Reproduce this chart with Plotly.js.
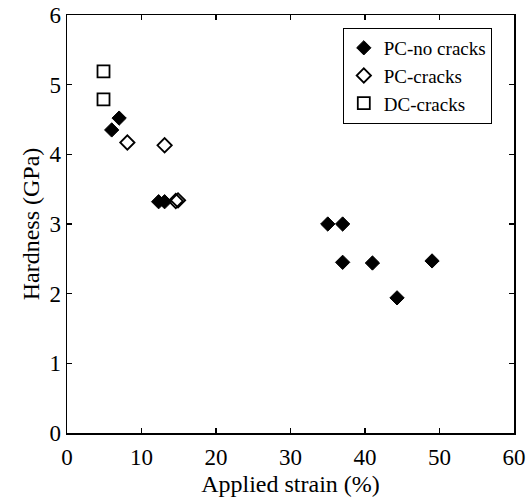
<!DOCTYPE html>
<html>
<head>
<meta charset="utf-8">
<script src="https://cdn.plot.ly/plotly-3.0.1.min.js"></script>
<style>html,body{margin:0;padding:0;background:#fff;}#chart{width:531px;height:500px;}</style>
</head>
<body>
<div id="chart"></div>
<script>
// Data
const pcNoCracksX = [6.0, 7.0, 12.3, 13.1, 35.0, 37.0, 37.0, 41.0, 44.3, 49.0];
const pcNoCracksY = [4.35, 4.52, 3.32, 3.32, 3.00, 3.00, 2.45, 2.44, 1.94, 2.47];
const pcCracksX = [8.1, 13.1, 14.6, 14.9];
const pcCracksY = [4.17, 4.13, 3.33, 3.34];
const dcCracksX = [4.9, 4.9];
const dcCracksY = [5.19, 4.79];
const seriesNames = ["PC-no cracks", "PC-cracks", "DC-cracks"];
const xTicks = [0, 10, 20, 30, 40, 50, 60];
const yTicks = [0, 1, 2, 3, 4, 5, 6];
const xTitle = "Applied strain (%)";
const yTitle = "Hardness (GPa)";

const FONT = "Liberation Serif, Times New Roman, serif";

const traces = [
  {x: pcNoCracksX, y: pcNoCracksY, name: seriesNames[0], mode: "markers", type: "scatter",
   marker: {symbol: "diamond", size: 11, color: "black", line: {color: "black", width: 1}}},
  {x: pcCracksX, y: pcCracksY, name: seriesNames[1], mode: "markers", type: "scatter",
   marker: {symbol: "diamond-open", size: 11, color: "black", line: {color: "black", width: 1.8}}},
  {x: dcCracksX, y: dcCracksY, name: seriesNames[2], mode: "markers", type: "scatter",
   marker: {symbol: "square-open", size: 12, color: "black", line: {color: "black", width: 1.8}}}
];

const axisCommon = {
  showgrid: false, zeroline: false, showline: true, linecolor: "black", linewidth: 1.5,
  mirror: "ticks", ticks: "inside", ticklen: 5, tickwidth: 1.2, tickcolor: "black",
  tickfont: {family: FONT, size: 23, color: "black"}
};

const layout = {
  width: 531, height: 500,
  margin: {l: 66.5, r: 17, t: 15, b: 67},
  paper_bgcolor: "white", plot_bgcolor: "white",
  showlegend: true,
  font: {family: FONT, color: "black"},
  xaxis: Object.assign({}, axisCommon, {
    range: [0, 60], tickvals: xTicks, ticktext: xTicks.map(String),
    ticklabelstandoff: 3,
    title: {text: xTitle, font: {family: FONT, size: 24, color: "black"}, standoff: 6}
  }),
  yaxis: Object.assign({}, axisCommon, {
    range: [0, 6], tickvals: yTicks, ticktext: yTicks.map(String),
    title: {text: yTitle, font: {family: FONT, size: 24, color: "black"}, standoff: 3}
  }),
  legend: {
    x: 0.617, y: 0.969, xanchor: "left", yanchor: "top",
    bordercolor: "black", borderwidth: 1, bgcolor: "white",
    font: {family: FONT, size: 19, color: "black"},
    tracegroupgap: 0
  }
};

Plotly.newPlot("chart", traces, layout, {displayModeBar: false, staticPlot: true});
</script>
</body>
</html>
